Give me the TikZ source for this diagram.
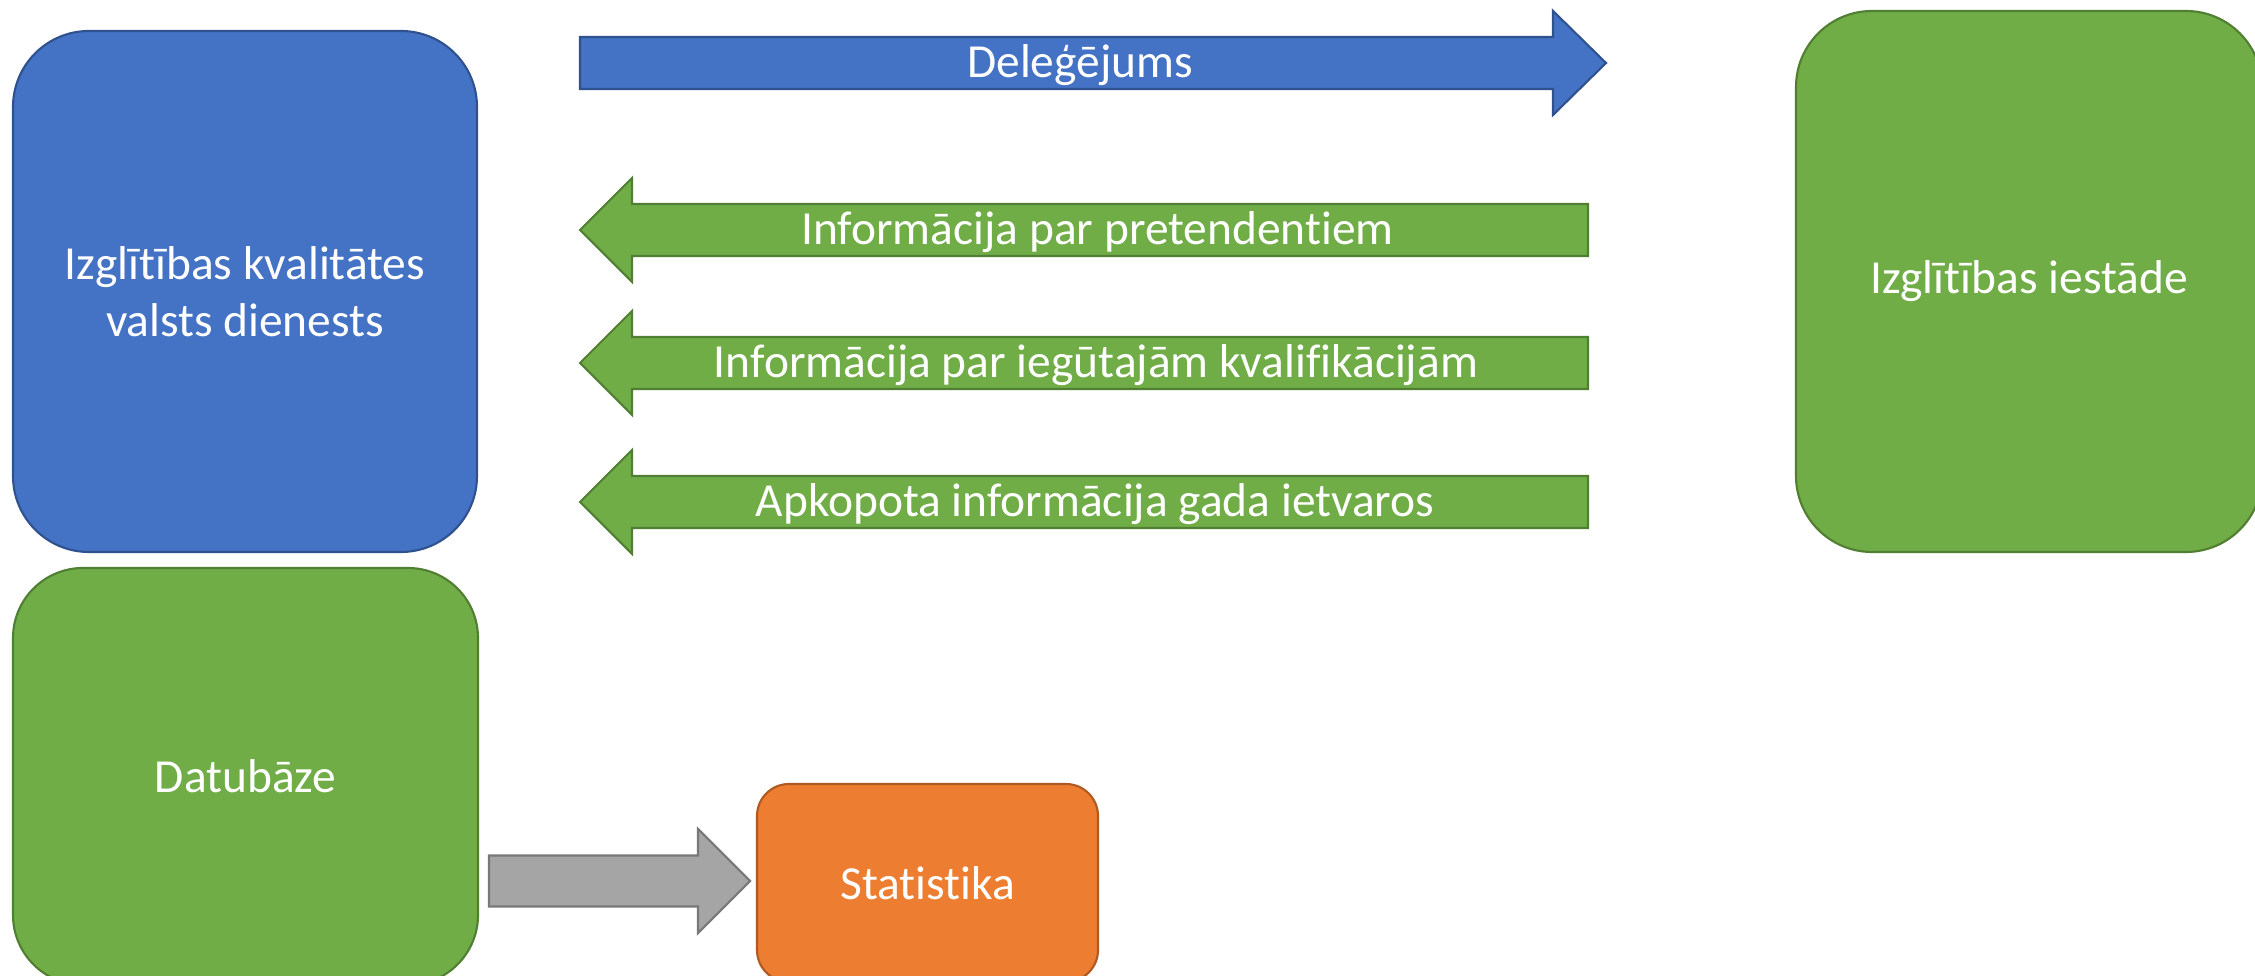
\documentclass[tikz,border=0pt]{standalone}
\usepackage{fontspec}
\setmainfont{Carlito}[Ligatures=NoCommon]
\usetikzlibrary{positioning}

\definecolor{ikvblue}{HTML}{4472C4}
\definecolor{ikvblueline}{HTML}{2F528F}
\definecolor{ikvgreen}{HTML}{70AD47}
\definecolor{ikvgreenline}{HTML}{507E32}
\definecolor{ikvorange}{HTML}{ED7D31}
\definecolor{ikvorangeline}{HTML}{AE5A21}
\definecolor{ikvgray}{HTML}{A5A5A5}
\definecolor{ikvgrayline}{HTML}{787878}

\tikzset{
    bigbox/.style={rectangle, line width=1.2pt, text=white, align=center,
        font=\fontsize{27}{32.4}\selectfont},
    blockarrow/.style={line width=1.2pt},
    arrowtext/.style={text=white, anchor=base, font=\fontsize{27}{32.4}\selectfont}
}

\begin{document}
\begin{tikzpicture}
        \useasboundingbox (0,0) rectangle (45.1,19.52);

        % boxes
        \node[bigbox, fill=ikvblue, draw=ikvblueline, rounded corners=1.52cm,
            minimum width=9.28cm, minimum height=10.42cm] (ikvd) at (4.9,13.69)
            {Izglītības kvalitātes\\valsts dienests};
        \node[bigbox, fill=ikvgreen, draw=ikvgreenline, rounded corners=1.52cm,
            minimum width=9.32cm, minimum height=10.82cm] (iestade) at (40.58,13.89)
            {Izglītības iestāde};
        \node[bigbox, fill=ikvgreen, draw=ikvgreenline, rounded corners=1.4cm,
            minimum width=9.3cm, minimum height=8.34cm] (datubaze) at (4.91,3.99)
            {Datubāze};
        \node[bigbox, fill=ikvorange, draw=ikvorangeline, rounded corners=0.64cm,
            minimum width=6.82cm, minimum height=3.96cm] (statistika) at (18.55,1.86)
            {Statistika};

        % arrow to the right
        \filldraw[fill=ikvblue, draw=ikvblueline, blockarrow] (11.6,17.74) -- (31.06,17.74)
            -- (31.06,17.22) -- (32.12,18.26) -- (31.06,19.30) -- (31.06,18.78) -- (11.6,18.78) -- cycle;
        \node[arrowtext] (delegejums) at (21.6,17.96) {Deleģējums};

        % arrows to the left
        \filldraw[fill=ikvgreen, draw=ikvgreenline, blockarrow] (11.6,14.92) -- (12.64,15.96)
            -- (12.64,15.44) -- (31.76,15.44) -- (31.76,14.40) -- (12.64,14.40) -- (12.64,13.88) -- cycle;
        \node[arrowtext] (pretendenti) at (21.95,14.62) {Informācija par pretendentiem};

        \filldraw[fill=ikvgreen, draw=ikvgreenline, blockarrow] (11.6,12.26) -- (12.64,13.30)
            -- (12.64,12.78) -- (31.76,12.78) -- (31.76,11.74) -- (12.64,11.74) -- (12.64,11.22) -- cycle;
        \node[arrowtext] (kvalifikacijas) at (21.92,11.96) {Informācija par iegūtajām kvalifikācijām};

        \filldraw[fill=ikvgreen, draw=ikvgreenline, blockarrow] (11.6,9.48) -- (12.64,10.52)
            -- (12.64,10.00) -- (31.76,10.00) -- (31.76,8.96) -- (12.64,8.96) -- (12.64,8.44) -- cycle;
        \node[arrowtext] (apkopota) at (21.9,9.18) {Apkopota informācija gada ietvaros};

        % database to statistics
        \filldraw[fill=ikvgray, draw=ikvgrayline, blockarrow] (9.78,1.39) -- (13.96,1.39)
            -- (13.96,0.86) -- (15.0,1.9) -- (13.96,2.94) -- (13.96,2.41) -- (9.78,2.41) -- cycle;
\end{tikzpicture}
\end{document}
